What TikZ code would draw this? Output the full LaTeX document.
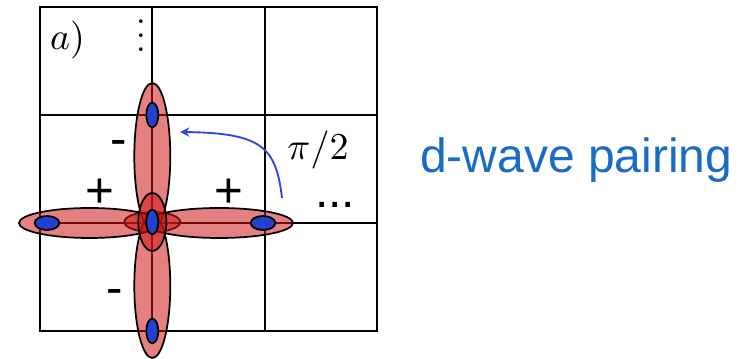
\documentclass[tikz,border=0pt]{standalone}
\usepackage{amsmath,amssymb}
\usepackage{fontspec}
\setsansfont{Liberation Sans}
\usepackage{tikz}
\usetikzlibrary{shapes.geometric,arrows.meta}
\definecolor{PairRed}{HTML}{CD1414}
\definecolor{SiteBlue}{HTML}{2440D0}
\definecolor{TurnBlue}{HTML}{3048E0}
\definecolor{LabelBlue}{HTML}{1A6BC6}

\begin{document}
\begin{tikzpicture}[x=0.75pt,y=0.75pt,
    bond/.style={draw=black,line width=1.3pt,fill=PairRed,fill opacity=0.54},
    site/.style={ellipse,draw=black,line width=1.3pt,fill=SiteBlue,inner sep=0pt},
    vsite/.style={site,minimum width=9pt,minimum height=18.5pt},
    hsite/.style={site,minimum width=18.5pt,minimum height=10.5pt},
    sign/.style={font=\sffamily\fontsize{37}{37}\selectfont,anchor=base,inner sep=0pt},
    mathlbl/.style={scale=2.85,inner sep=0pt}]
  \useasboundingbox (0,0) rectangle (746,359);
  % lattice
  \begin{scope}[shift={(40,28)}]
    \draw[line width=1.5pt,line cap=rect] (0,0) grid[step={(112.33,108)}] (337,324);
  \end{scope}
  % pair wave function
  \draw[bond] (152.3,137) ellipse [x radius=28,y radius=10];
  \draw[bond] (152.3,202.5) ellipse [x radius=18,y radius=73.5];
  \draw[bond] (152.3,73) ellipse [x radius=18,y radius=72];
  \draw[bond] (89.5,136) ellipse [x radius=70.5,y radius=15];
  \draw[bond] (219,136) ellipse [x radius=74,y radius=15];
  \draw[bond] (152.3,137) ellipse [x radius=14,y radius=29];
  % sites
  \node[vsite] (top) at (152.3,244) {};
  \node[vsite] (mid) at (152.3,137) {};
  \node[vsite] (bot) at (152.3,28) {};
  \node[hsite] (lft) at (47,136) {};
  \node[hsite] (rgt) at (263,136) {};
  % rotation
  \coordinate (turnA) at (282,161);
  \coordinate (turnB) at (180,227);
  \draw[TurnBlue,line width=1.4pt,-{Stealth[length=7pt,width=7pt]}] (turnA) .. controls (276,212) and (262,226) .. (turnB);
  \node[mathlbl] (ang) at (318,209) {$\pi/2$};
  % labels
  \node[mathlbl] (lblA) at (67.5,319) {$a)$};
  \node[scale=2.6,inner sep=0pt,anchor=south] (vdts) at (141,305) {$\smash{\vdots}$};
  \node[font=\sffamily\fontsize{36}{36}\selectfont,anchor=base west,inner sep=0pt] (hdts) at (315,151) {...};
  \node[sign] (plusL) at (100,151) {+};
  \node[sign] (plusR) at (229,151) {+};
  \node[sign] (minU) at (119,203) {-};
  \node[sign] (minD) at (115,54) {-};
  \node[font=\sffamily\fontsize{36}{36}\selectfont,text=LabelBlue,anchor=base west,inner sep=0pt] (title) at (420,186) {d-wave pairing};
\end{tikzpicture}
\end{document}
